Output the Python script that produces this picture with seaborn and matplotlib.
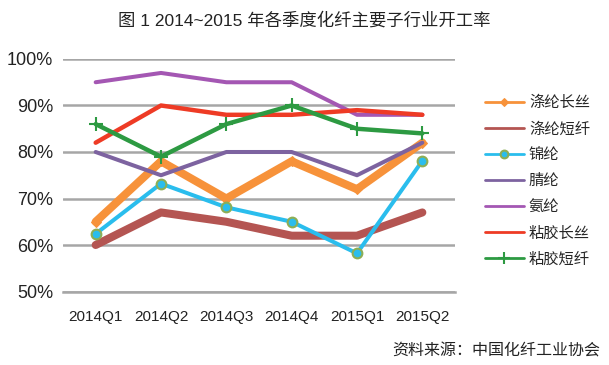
import matplotlib
matplotlib.use('Agg')
import matplotlib.pyplot as plt
import seaborn as sns
import pandas as pd

# Dane
kwartaly = ['2014Q1', '2014Q2', '2014Q3', '2014Q4', '2015Q1', '2015Q2']
dtcs = [65, 78, 70, 78, 72, 82]         # 涤纶长丝
dtdx = [60, 67, 65, 62, 62, 67]         # 涤纶短纤
jinlun = [62.4, 73.2, 68.1, 65, 58.2, 78.1]  # 锦纶
jinglun = [80, 75, 80, 80, 75, 82]      # 腈纶
anlun = [95, 97, 95, 95, 88, 88]        # 氨纶
njcs = [82, 90, 88, 88, 89, 88]         # 粘胶长丝
njdx = [86, 79, 86, 90, 85, 84]         # 粘胶短纤

nazwy = ['涤纶长丝', '涤纶短纤', '锦纶', '腈纶', '氨纶', '粘胶长丝', '粘胶短纤']
serie = [dtcs, dtdx, jinlun, jinglun, anlun, njcs, njdx]

df = pd.DataFrame({'kwartal': kwartaly * len(nazwy),
                   'seria': [n for n in nazwy for _ in kwartaly],
                   'wartosc': [v for s in serie for v in s]})

sns.set_style('white')
plt.rcParams['font.family'] = ['Liberation Sans', 'Noto Sans CJK SC']

style = {
    '涤纶长丝': dict(color='#F7923A', lw=5.8, marker='D', ms=5, mec='#F7923A', mfc='#F7923A'),
    '涤纶短纤': dict(color='#B45552', lw=5.8, marker=None),
    '锦纶': dict(color='#2ABDED', lw=2.9, marker='o', ms=7, mec='#8DAE55', mfc='#2ABDED', mew=1.5),
    '腈纶': dict(color='#7D63A0', lw=2.9, marker=None),
    '氨纶': dict(color='#A457B3', lw=2.9, marker=None),
    '粘胶长丝': dict(color='#EE3B25', lw=3.2, marker=None),
    '粘胶短纤': dict(color='#2D9A42', lw=3.2, marker='+', ms=10, mew=1.5, mec='#2D9A42'),
}

fig = plt.figure(figsize=(6.09, 3.65), dpi=100)
ax = fig.add_axes([63/609, 1 - 291.5/365, 392/609, 232.5/365])

for n in nazwy:
    st = style[n]
    sub = df[df['seria'] == n]
    kw = {k: v for k, v in st.items() if k not in ('color', 'lw', 'marker')}
    sns.lineplot(data=sub, x='kwartal', y='wartosc', ax=ax, color=st['color'],
                 linewidth=st['lw'], marker=st['marker'], label=n, sort=False, **kw)

ax.set_xlim(-0.5, 5.5)
ax.set_ylim(50, 100)
ax.set_yticks(range(50, 101, 10))
ax.set_yticklabels([f'{v}%' for v in range(50, 101, 10)], fontsize=13, color='#222222')
ax.set_xticks(range(6))
ax.set_xticklabels(kwartaly, fontsize=11, color='#222222')
ax.set_xticks([i - 0.5 for i in range(7)], minor=True)
ax.tick_params(axis='x', which='major', length=0, pad=13)
ax.tick_params(axis='x', which='minor', length=4, width=1.2, color='#A0A0A0')
ax.tick_params(axis='y', length=0, pad=7)
ax.set_xlabel('')
ax.set_ylabel('')
ax.yaxis.grid(True, color='#A6A6A6', linewidth=1.8)
ax.set_axisbelow(True)
for s in ['left', 'right', 'top']:
    ax.spines[s].set_visible(False)
ax.spines['bottom'].set_color('#A6A6A6')
ax.spines['bottom'].set_linewidth(1.8)

leg = ax.legend(loc='upper left', bbox_to_anchor=(477/609, 1 - 88/365),
                bbox_transform=fig.transFigure, frameon=False, fontsize=11,
                handlelength=2.55, handletextpad=0.35, labelspacing=0.78, borderpad=0)
for line in leg.get_lines():
    line.set_linewidth(2)
    line.set_markersize(line.get_markersize() * 0.8)

fig.text(0.5, 1 - 20/365, '图 1 2014~2015 年各季度化纤主要子行业开工率', ha='center', va='center',
         fontsize=12.5, fontweight='medium', color='#222222')
fig.text(600/609, 1 - 351/365, '资料来源：中国化纤工业协会', ha='right', va='center',
         fontsize=11.5, color='#222222', family=['Noto Sans CJK SC'])

fig.savefig('out.png', dpi=100)
